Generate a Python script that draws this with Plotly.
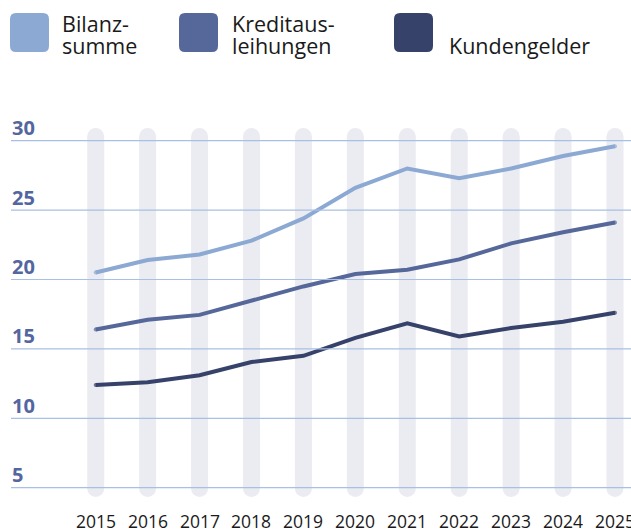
import plotly.graph_objects as go

# ---------------- data ----------------
years = ["2015", "2016", "2017", "2018", "2019", "2020", "2021", "2022", "2023", "2024", "2025"]
bilanzsumme = [20.5, 21.4, 21.8, 22.8, 24.4, 26.6, 28.0, 27.3, 28.0, 28.9, 29.6]
kreditausleihungen = [16.4, 17.1, 17.45, 18.5, 19.5, 20.4, 20.7, 21.45, 22.6, 23.4, 24.1]
kundengelder = [12.4, 12.6, 13.1, 14.05, 14.5, 15.8, 16.85, 15.9, 16.5, 16.95, 17.6]
y_ticks = [5, 10, 15, 20, 25, 30]
series_names = ["Bilanzsumme", "Kreditausleihungen", "Kundengelder"]
legend_lines = [["Bilanz-", "summe"], ["Kreditaus-", "leihungen"], ["", "Kundengelder"]]

# ---------------- style / layout ----------------
W, H = 631, 530
COLORS = ["#8ca9d3", "#56679a", "#37426b"]
BAR_BG = "#ebecf2"
GRID = "#a9bfe3"
YLAB = "#5366a0"
TXT = "#1a1a1a"
FONT = "Open Sans"

# scale calibration (pixels)
X_FIRST_PX, X_STEP_PX = 95.7, 51.93
Y30_PX, UNIT_PX = 140.7, 13.88
X_RANGE = [(0 - X_FIRST_PX) / X_STEP_PX, (W - X_FIRST_PX) / X_STEP_PX]
Y_RANGE = [30 - (H - Y30_PX) / UNIT_PX, 30 + Y30_PX / UNIT_PX]
BAR_LO, BAR_HI = 4.95, 30.3


def py_to_val(py):
    return Y_RANGE[1] - py / H * (Y_RANGE[1] - Y_RANGE[0])


def px_paper(px):
    return px / W


def py_paper(py):
    return 1 - py / H


xs = list(range(len(years)))
fig = go.Figure()

# background capsule columns
bx, by = [], []
for x in xs:
    bx += [x, x, None]
    by += [BAR_LO, BAR_HI, None]
fig.add_trace(go.Scatter(x=bx, y=by, mode="lines+markers",
                         line=dict(color=BAR_BG, width=17),
                         marker=dict(color=BAR_BG, size=17, line=dict(width=0)),
                         hoverinfo="skip", showlegend=False))

# gridlines and y labels
for t in y_ticks:
    fig.add_shape(type="line", xref="paper", yref="y", x0=px_paper(11), x1=1, y0=t, y1=t,
                  line=dict(color=GRID, width=1.2), layer="above")
    fig.add_annotation(xref="paper", yref="y", x=px_paper(10), y=t, xanchor="left", yanchor="middle",
                       yshift=13, text=f"<b>{t}</b>", showarrow=False,
                       font=dict(family=FONT, size=20, color=YLAB))

# series lines (small end dots emulate round line caps)
for name, vals, col in zip(series_names, [bilanzsumme, kreditausleihungen, kundengelder], COLORS):
    caps = [4] + [0] * (len(vals) - 2) + [4]
    fig.add_trace(go.Scatter(x=xs, y=vals, mode="lines+markers", name=name,
                             line=dict(color=col, width=4),
                             marker=dict(color=col, size=caps, line=dict(width=0)),
                             showlegend=False))

# x labels
for x, yr in zip(xs, years):
    fig.add_annotation(xref="x", yref="y", x=x, y=py_to_val(520.5), text=yr, showarrow=False,
                       xanchor="center", yanchor="middle", height=18, borderpad=0, valign="middle",
                       font=dict(family=FONT, size=17.5, color=TXT))

# custom legend
sq_x = [10, 179, 394]
txt_x = [61, 231, 448]
for lx, tx, col, lines in zip(sq_x, txt_x, COLORS, legend_lines):
    x0, x1, y0, y1, r = lx, lx + 39, 13, 52, 6

    def P(px, pyy):
        return f"{px_paper(px):.5f},{py_paper(pyy):.5f}"

    path = (f"M {P(x0 + r, y0)} L {P(x1 - r, y0)} Q {P(x1, y0)} {P(x1, y0 + r)} "
            f"L {P(x1, y1 - r)} Q {P(x1, y1)} {P(x1 - r, y1)} L {P(x0 + r, y1)} "
            f"Q {P(x0, y1)} {P(x0, y1 - r)} L {P(x0, y0 + r)} Q {P(x0, y0)} {P(x0 + r, y0)} Z")
    fig.add_shape(type="path", xref="paper", yref="paper", path=path,
                  fillcolor=col, line=dict(width=0))
    top_txt, bottom_txt = lines
    if top_txt:
        fig.add_annotation(xref="paper", yref="paper", x=px_paper(tx), y=py_paper(24),
                           xanchor="left", yanchor="middle", height=19, borderpad=0,
                           valign="middle", text=top_txt, showarrow=False,
                           font=dict(family=FONT, size=21.5, color=TXT))
    fig.add_annotation(xref="paper", yref="paper", x=px_paper(tx), y=py_paper(34),
                       xanchor="left", yanchor="top", height=25, borderpad=0,
                       valign="bottom", text=bottom_txt, showarrow=False,
                       font=dict(family=FONT, size=21.5, color=TXT))

fig.update_layout(
    width=W, height=H, margin=dict(l=0, r=0, t=0, b=0),
    paper_bgcolor="white", plot_bgcolor="white",
    xaxis=dict(range=X_RANGE, visible=False, fixedrange=True),
    yaxis=dict(range=Y_RANGE, visible=False, fixedrange=True),
    showlegend=False,
)
fig.write_html("out.html", config={"displayModeBar": False},
               post_script="document.body.style.margin='0';document.body.style.overflow='hidden';")
